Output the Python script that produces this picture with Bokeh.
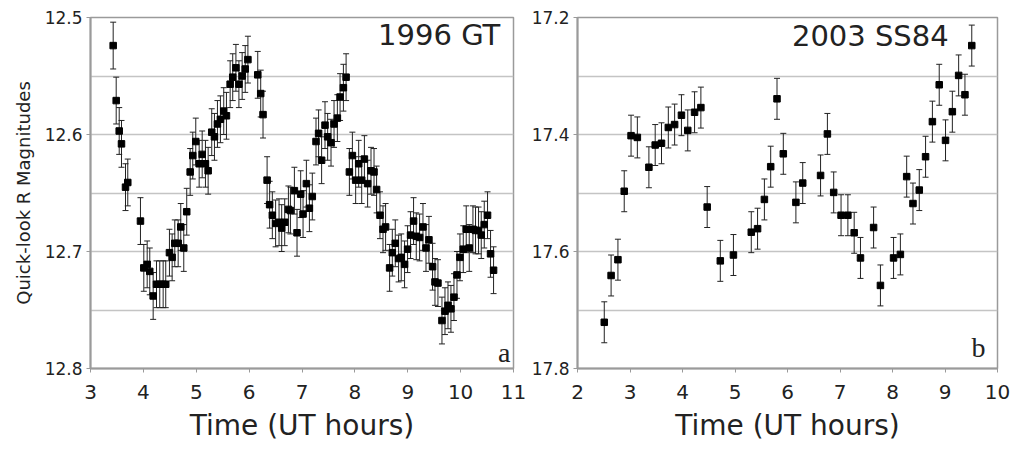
from bokeh.plotting import figure
from bokeh.layouts import row
from bokeh.models import ColumnDataSource, Whisker, TeeHead, Range1d, FixedTicker, Label
from bokeh.embed import file_html
from bokeh.resources import INLINE

# ---- 1996 GT (panel a) ----
gt_time = [3.429, 3.486, 3.543, 3.586, 3.662, 3.705, 3.945, 4.008, 4.072, 4.121,
           4.185, 4.248, 4.310, 4.374, 4.423, 4.493, 4.544, 4.594, 4.658, 4.707,
           4.764, 4.820, 4.885, 4.934, 4.991, 5.055, 5.112, 5.174, 5.225, 5.293,
           5.344, 5.401, 5.457, 5.520, 5.571, 5.641, 5.690, 5.750, 5.807, 5.868,
           5.926, 5.977, 6.163, 6.219, 6.263, 6.340, 6.388, 6.439, 6.501, 6.566,
           6.616, 6.673, 6.743, 6.781, 6.856, 6.906, 6.975, 7.020, 7.083, 7.140,
           7.195, 7.265, 7.314, 7.371, 7.435, 7.485, 7.549, 7.606, 7.669, 7.720,
           7.783, 7.834, 7.896, 7.953, 8.015, 8.072, 8.129, 8.180, 8.241, 8.305,
           8.362, 8.411, 8.475, 8.532, 8.581, 8.657, 8.708, 8.764, 8.827, 8.877,
           8.940, 8.997, 9.053, 9.110, 9.161, 9.224, 9.288, 9.345, 9.401, 9.469,
           9.515, 9.571, 9.647, 9.704, 9.761, 9.817, 9.874, 9.931, 9.987, 10.050,
           10.106, 10.163, 10.233, 10.282, 10.339, 10.390, 10.447, 10.509, 10.566, 10.623]
gt_mag = [12.524, 12.571, 12.597, 12.608, 12.645, 12.641, 12.674, 12.714, 12.711, 12.717,
          12.738, 12.728, 12.728, 12.728, 12.728, 12.701, 12.705, 12.693, 12.693, 12.679,
          12.697, 12.666, 12.632, 12.618, 12.606, 12.625, 12.617, 12.625, 12.631, 12.598,
          12.602, 12.591, 12.587, 12.580, 12.584, 12.557, 12.551, 12.543, 12.557, 12.550,
          12.544, 12.536, 12.549, 12.565, 12.583, 12.639, 12.660, 12.669, 12.676, 12.675,
          12.680, 12.675, 12.664, 12.665, 12.648, 12.684, 12.651, 12.668, 12.642, 12.663,
          12.653, 12.606, 12.599, 12.622, 12.592, 12.602, 12.607, 12.591, 12.586, 12.568,
          12.560, 12.551, 12.632, 12.618, 12.639, 12.625, 12.639, 12.621, 12.642, 12.631,
          12.632, 12.647, 12.669, 12.681, 12.679, 12.714, 12.701, 12.693, 12.706, 12.705,
          12.711, 12.698, 12.686, 12.674, 12.687, 12.688, 12.679, 12.697, 12.690, 12.713,
          12.726, 12.727, 12.759, 12.751, 12.746, 12.749, 12.739, 12.720, 12.705, 12.698,
          12.681, 12.697, 12.681, 12.682, 12.682, 12.686, 12.677, 12.669, 12.702, 12.716]
gt_err = 0.02

# ---- 2003 SS84 (panel b) ----
ss_time = [2.51, 2.64, 2.77, 2.89, 3.02, 3.14, 3.36, 3.48, 3.60, 3.73,
           3.85, 3.98, 4.10, 4.23, 4.35, 4.47, 4.72, 4.97, 5.31, 5.43,
           5.56, 5.68, 5.80, 5.92, 6.16, 6.29, 6.63, 6.76, 6.88, 7.02,
           7.15, 7.27, 7.39, 7.64, 7.77, 8.02, 8.15, 8.27, 8.39, 8.51,
           8.63, 8.76, 8.89, 9.01, 9.14, 9.26, 9.38, 9.51]
ss_mag = [17.721, 17.641, 17.614, 17.497, 17.402, 17.405, 17.456, 17.418, 17.415, 17.388,
          17.383, 17.367, 17.393, 17.362, 17.354, 17.524, 17.616, 17.606, 17.567, 17.561,
          17.511, 17.455, 17.339, 17.433, 17.516, 17.483, 17.470, 17.399, 17.499, 17.538,
          17.538, 17.568, 17.611, 17.559, 17.658, 17.611, 17.605, 17.472, 17.518, 17.495,
          17.438, 17.378, 17.315, 17.410, 17.361, 17.299, 17.332, 17.248]
ss_err = 0.035

gt_yticks = [12.5, 12.6, 12.7, 12.8]
gt_ygrid = [12.55, 12.6, 12.65, 12.7, 12.75]
gt_xticks = [3, 4, 5, 6, 7, 8, 9, 10, 11]
ss_yticks = [17.2, 17.4, 17.6, 17.8]
ss_ygrid = [17.3, 17.4, 17.5, 17.6, 17.7]
ss_xticks = [2, 3, 4, 5, 6, 7, 8, 9, 10]

FONT = "DejaVu Sans"
AX = "#9a9a9a"
TXT = "#222222"


def panel(times, mags, err, xr, yr, xticks, yticks, ygrid, w, h, bl, br, bb, ylabel):
    p = figure(width=w, height=h, output_backend="svg", toolbar_location=None,
               x_range=Range1d(*xr), y_range=Range1d(*yr),
               min_border_left=bl, min_border_right=br, min_border_top=17,
               min_border_bottom=bb)
    src = ColumnDataSource(dict(t=times, m=mags,
                                lo=[v - err for v in mags], hi=[v + err for v in mags]))
    wk = Whisker(base="t", lower="lo", upper="hi", source=src, dimension="height",
                 line_color=TXT, line_width=1,
                 upper_head=TeeHead(size=6, line_color=TXT, line_width=1),
                 lower_head=TeeHead(size=6, line_color=TXT, line_width=1))
    p.add_layout(wk)
    p.scatter("t", "m", source=src, marker="square", size=6.5,
              fill_color="black", line_color="black")
    p.xgrid.visible = False
    p.ygrid.ticker = FixedTicker(ticks=ygrid)
    p.ygrid.grid_line_color = "#c4c4c4"
    p.ygrid.grid_line_width = 1.5
    p.outline_line_color = AX
    p.outline_line_width = 1.5
    p.xaxis.ticker = FixedTicker(ticks=xticks)
    p.yaxis.ticker = FixedTicker(ticks=yticks)
    p.xaxis.minor_tick_line_color = None
    p.yaxis.minor_tick_line_color = None
    for ax in (p.xaxis, p.yaxis):
        ax.axis_line_color = AX
        ax.axis_line_width = 2
        ax.major_tick_line_color = AX
        ax.major_tick_in = 0
        ax.major_tick_out = 4
        ax.major_label_text_font = FONT
        ax.major_label_text_color = TXT
        ax.axis_label_text_font = FONT
        ax.axis_label_text_font_style = "normal"
        ax.axis_label_text_color = TXT
    p.xaxis.major_label_text_font_size = "20px"
    p.xaxis.major_label_standoff = 12
    p.yaxis.major_label_text_font_size = "17px"
    p.yaxis.major_label_standoff = 4
    p.xaxis.axis_label = "Time (UT hours)"
    p.xaxis.axis_label_text_font_size = "28px"
    p.xaxis.axis_label_standoff = 7
    if ylabel:
        p.yaxis.axis_label = ylabel
        p.yaxis.axis_label_text_font_size = "18px"
        p.yaxis.axis_label_standoff = 8
    return p


pa = panel(gt_time, gt_mag, gt_err, (3, 11), (12.8, 12.5), gt_xticks, gt_yticks, gt_ygrid,
           527, 450, 90, 14, 78, "Quick-look R Magnitudes")
pb = panel(ss_time, ss_mag, ss_err, (2, 10), (17.8, 17.2), ss_xticks, ss_yticks, ss_ygrid,
           483, 450, 50, 13, 82, None)

pa.add_layout(Label(x=10.75, y=12.515, text="1996 GT", text_font=FONT, text_font_size="29px",
                    text_align="right", text_baseline="middle", text_color=TXT))
pa.add_layout(Label(x=10.94, y=12.786, text="a", text_font="Liberation Serif",
                    text_font_size="28px", text_align="right", text_baseline="middle",
                    text_color=TXT))
pb.add_layout(Label(x=9.07, y=17.231, text="2003 SS84", text_font=FONT, text_font_size="29px",
                    text_align="right", text_baseline="middle", text_color=TXT))
pb.add_layout(Label(x=9.77, y=17.764, text="b", text_font="Liberation Serif",
                    text_font_size="28px", text_align="right", text_baseline="middle",
                    text_color=TXT))

layout = row(pa, pb)
open("out.html", "w").write(file_html(layout, INLINE))
